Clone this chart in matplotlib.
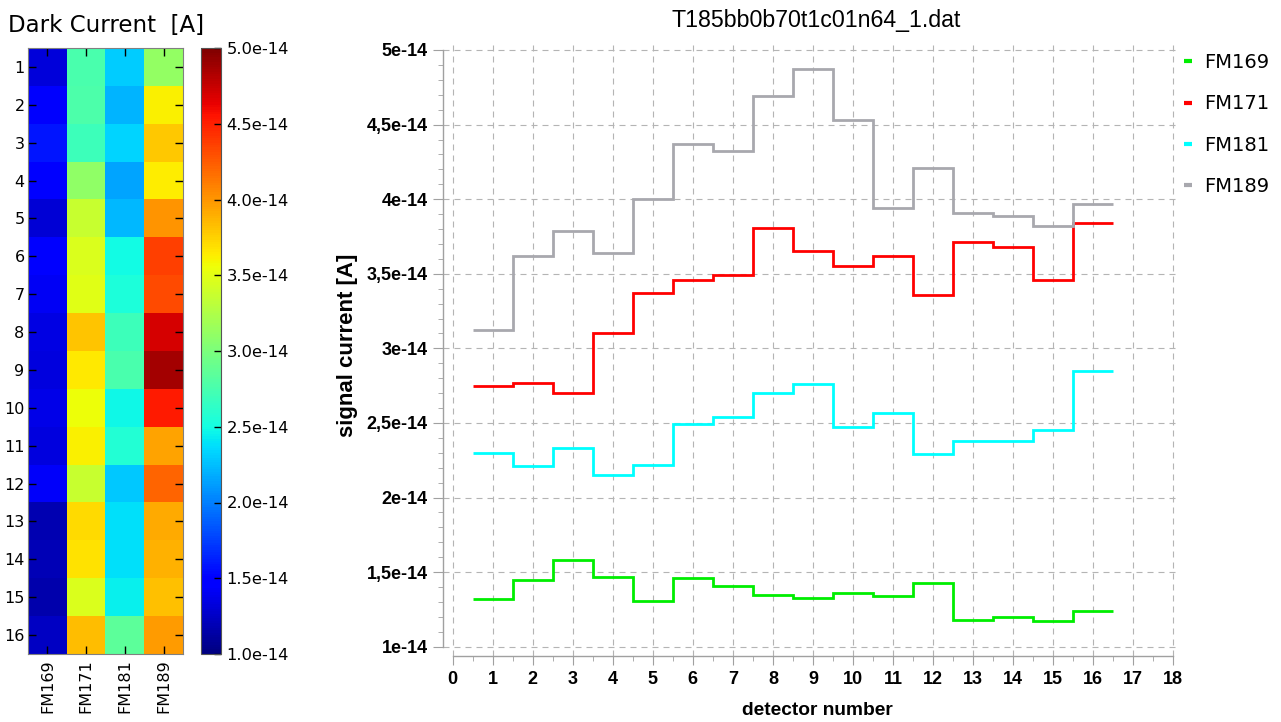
import numpy as np
import matplotlib
matplotlib.use("Agg")
import matplotlib.pyplot as plt
from matplotlib.lines import Line2D
from matplotlib.ticker import MultipleLocator, FixedLocator, FixedFormatter

# ---- data -------------------------------------------------------------
detectors = list(range(1, 17))
modules = ["FM169", "FM171", "FM181", "FM189"]
module_colors = ["#00ee00", "#ff0000", "#00ffff", "#a8a8ae"]

# currents per detector, in units of 1e-14 A
fm169 = [1.32, 1.45, 1.58, 1.47, 1.31, 1.46, 1.41, 1.35,
         1.33, 1.36, 1.34, 1.43, 1.18, 1.20, 1.17, 1.24]
fm171 = [2.75, 2.77, 2.70, 3.10, 3.37, 3.46, 3.49, 3.81,
         3.65, 3.55, 3.62, 3.36, 3.71, 3.68, 3.46, 3.84]
fm181 = [2.30, 2.21, 2.33, 2.15, 2.22, 2.49, 2.54, 2.70,
         2.76, 2.47, 2.57, 2.29, 2.38, 2.38, 2.45, 2.85]
fm189 = [3.12, 3.62, 3.79, 3.64, 4.00, 4.37, 4.32, 4.69,
         4.87, 4.53, 3.94, 4.21, 3.91, 3.89, 3.82, 3.97]
scale = 1e-14

cbar_ticks = [1.0, 1.5, 2.0, 2.5, 3.0, 3.5, 4.0, 4.5, 5.0]
y_ticks = [1.0, 1.5, 2.0, 2.5, 3.0, 3.5, 4.0, 4.5, 5.0]
y_tick_labels = ["1e-14", "1,5e-14", "2e-14", "2,5e-14", "3e-14",
                 "3,5e-14", "4e-14", "4,5e-14", "5e-14"]
x_ticks = list(range(0, 19))

file_title = "T185bb0b70t1c01n64_1.dat"

series = [fm169, fm171, fm181, fm189]
current = np.array(series).T * scale          # shape (16 detectors, 4 modules)

# ---- figure -----------------------------------------------------------
W, H = 1281, 722
fig = plt.figure(figsize=(W / 100, H / 100), dpi=100)

def box(x0, y0, x1, y1):
    return [x0 / W, 1 - y1 / H, (x1 - x0) / W, (y1 - y0) / H]

# left: detector map
ax_hm = fig.add_axes(box(28, 48, 183, 654))
cax = fig.add_axes(box(201, 48, 221, 654))

im = ax_hm.imshow(current, cmap="jet", vmin=1e-14, vmax=5e-14,
                  aspect="auto", interpolation="nearest",
                  extent=(-0.5, len(modules) - 0.5, len(detectors) + 0.5, 0.5))
ax_hm.set_xticks(range(len(modules)))
ax_hm.set_xticklabels(modules, rotation=90, fontsize=11.5)
ax_hm.set_yticks(detectors)
ax_hm.set_yticklabels([str(d) for d in detectors], fontsize=11.5)
ax_hm.tick_params(axis="both", direction="in", length=5.5, width=1,
                  color="black", top=True, right=True)
ax_hm.tick_params(axis="x", pad=4)
ax_hm.tick_params(axis="y", pad=2.5)
for sp in ax_hm.spines.values():
    sp.set_color("#808080")

fig.text(8 / W, 1 - 32.3 / H, "Dark Current  [A]", fontsize=16.5,
         va="baseline", ha="left")

cb = fig.colorbar(im, cax=cax, ticks=[t * scale for t in cbar_ticks],
                  format="%.1e")
cb.minorticks_off()
cax.tick_params(direction="in", length=5, width=1, labelsize=11.8, pad=4)
cb.outline.set_edgecolor("#555555")

# right: signal current per detector
ax = fig.add_axes(box(443, 40, 1180, 656))
ax.set_xlim(-0.242, 18.17)
ax.set_ylim(0.938e-14, 5.067e-14)

edges = np.arange(0.5, len(detectors) + 1.0, 1.0)
for vals, col in zip(series, module_colors):
    ax.stairs(np.array(vals) * scale, edges, baseline=None,
              color=col, linewidth=2.0, zorder=3)

ax.xaxis.set_major_locator(FixedLocator(x_ticks))
ax.xaxis.set_minor_locator(MultipleLocator(0.5))
ax.yaxis.set_major_locator(FixedLocator([v * scale for v in y_ticks]))
ax.yaxis.set_major_formatter(FixedFormatter(y_tick_labels))
ax.yaxis.set_minor_locator(MultipleLocator(0.1 * scale))

grid_kw = dict(color="#b4b4b4", linewidth=0.8, linestyle=(0, (5.4, 4.5)))
ax.grid(True, which="major", axis="both", **grid_kw)
ax.set_axisbelow(True)

for side in ("top", "right"):
    ax.spines[side].set_visible(False)
ax.spines["left"].set_bounds(1e-14, 5e-14)
ax.spines["bottom"].set_bounds(0, 18)
for side in ("left", "bottom"):
    ax.spines[side].set_color("#a0a0a0")
    ax.spines[side].set_linewidth(1.0)

tick_font = dict(family="Liberation Sans", weight="bold", size=13)
ax.tick_params(axis="x", which="major", direction="out", length=6.5,
               color="#a0a0a0", pad=4)
ax.tick_params(axis="x", which="minor", direction="out", length=3.3,
               color="#a0a0a0")
ax.tick_params(axis="y", which="major", direction="out", length=7,
               color="#a0a0a0", pad=4)
ax.tick_params(axis="y", which="minor", direction="out", length=3.5,
               color="#a0a0a0")
for lbl in ax.get_xticklabels() + ax.get_yticklabels():
    lbl.set_fontproperties(tick_font)

ax.set_title(file_title, x=0.507, pad=9.6, fontsize=16.7,
             family="Liberation Sans")
ax.set_xlabel("detector number", family="Liberation Sans", weight="bold",
              fontsize=13.8, va="center")
ax.xaxis.set_label_coords((817 - 443) / 737, -(710.7 - 656) / 616)
ax.set_ylabel("signal current [A]", family="Liberation Sans", weight="bold",
              fontsize=16, va="center")
ax.yaxis.set_label_coords((348 - 443) / 737, (656 - 345) / 616)

handles = [Line2D([], [], color=c, linewidth=3, solid_capstyle="butt")
           for c in module_colors]
fig.legend(handles, modules, loc="upper left",
           bbox_to_anchor=(1184 / W, 1 - 53 / H), frameon=False,
           fontsize=14, handlelength=0.4, handletextpad=0.65,
           labelspacing=1.15, borderpad=0, borderaxespad=0)

fig.savefig("out.png", dpi=100)
